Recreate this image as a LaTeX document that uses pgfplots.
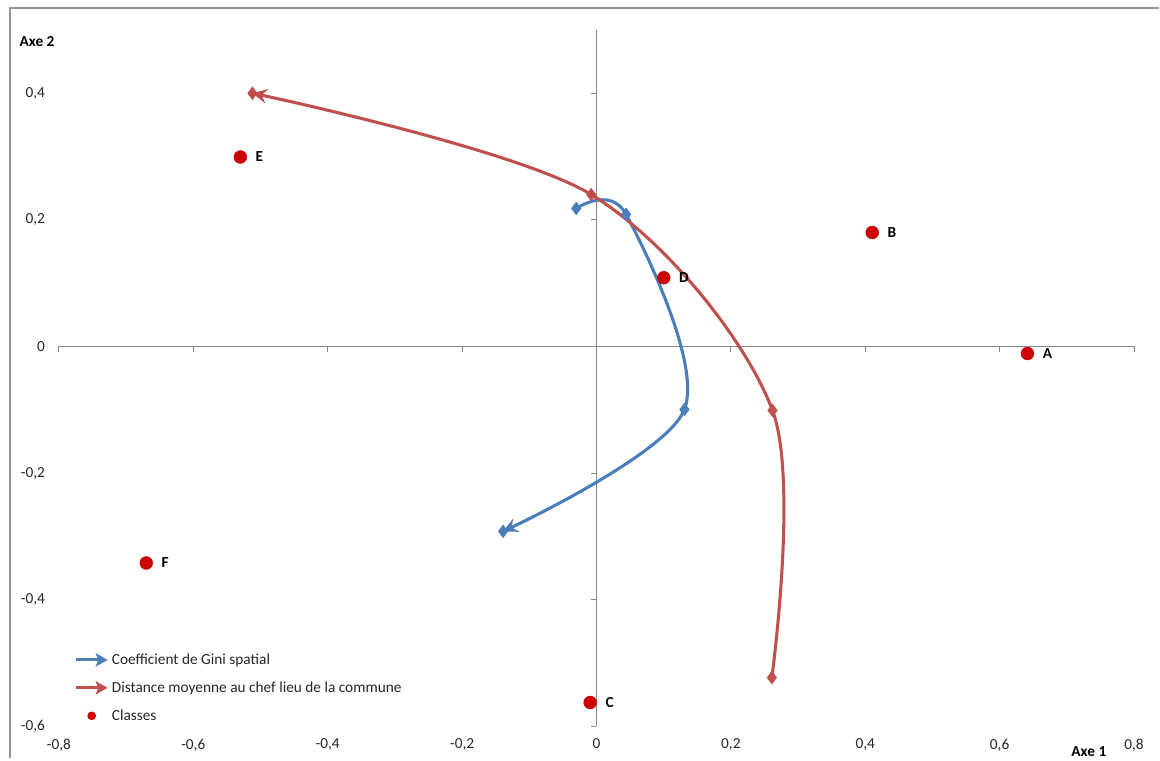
\documentclass[border=0pt]{standalone}
\usepackage{fontspec}
\setmainfont{Carlito}
\usepackage{pgfplots}
\pgfplotsset{compat=1.18}
\usetikzlibrary{arrows.meta}
\definecolor{gini}{RGB}{74,126,187}
\definecolor{dist}{RGB}{192,80,77}
\definecolor{classred}{RGB}{204,0,0}
\definecolor{axgray}{RGB}{134,134,134}
\definecolor{framegray}{RGB}{150,150,150}
\newcommand{\chartfont}{\fontsize{11.5pt}{13.8pt}\selectfont}

\pgfplotsset{
  common/.style={scale only axis, width=807pt, height=522.75pt,
    xmin=-0.8, xmax=0.8, ymin=-0.6, ymax=0.5,
    xtick={-0.8,-0.6,-0.4,-0.2,0,0.2,0.4,0.6,0.8},
    ytick={-0.6,-0.4,-0.2,0,0.2,0.4}},
}

\pgfplotstableread{
x y label
0.6414 -0.0111 A
0.4104 0.1800 B
-0.0094 -0.5624 C
0.1001 0.1086 D
-0.5300 0.2993 E
-0.6700 -0.3420 F
}\classes

\begin{document}
\begin{tikzpicture}[font=\chartfont]
% axis lines crossing at the origin
\begin{axis}[common, axis lines=middle,
  axis line style={axgray, line width=0.75pt, -},
  xticklabels={}, yticklabels={},
  tick style={axgray, line width=0.75pt},
  major tick length=4pt, tick align=outside, clip=false]
  \addplot[draw=none] coordinates {(0,0)};
  \draw[framegray, line width=1.5pt] (axis cs:-0.8729,-0.6505) -- (axis cs:-0.8729,0.5347) -- (axis cs:0.8372,0.5347);
  \path (axis cs:-0.8877,-0.6505) rectangle (axis cs:0.8372,0.5473);
\end{axis}
% data and tick labels
\begin{axis}[common, axis line style={draw=none}, major tick length=0pt,
  /pgf/number format/.cd, use comma, fixed, precision=1, assume math mode=true,
  /pgfplots/.cd,
  tick label style={font=\chartfont, text=black!85},
  yticklabel style={xshift=-7pt},
  xticklabel style={yshift=-6pt},
  clip=false,
  legend style={at={(axis description cs:0.0102,0.1125)}, anchor=north west,
    draw=none, fill=none, row sep=7.5pt, font=\chartfont, text=black!85},
  legend cell align=left]
  \addplot[gini, line width=2.3pt, smooth, tension=0.52, mark=diamond*, mark size=3.2pt,
    mark options={solid}, -{Stealth[length=11pt,width=11pt,inset=4pt]},
    legend image code/.code={\draw[gini, line width=2.3pt, -{Stealth[length=9pt,width=10pt,inset=2pt]}] (0pt,0pt) -- (24pt,0pt);}]
  coordinates {(-0.0302,0.218) (0.0441,0.2087) (0.1309,-0.0996) (-0.139,-0.292)};
  \addlegendentry{Coefficient de Gini spatial}
  \addplot[dist, line width=2.3pt, smooth, tension=0.52, mark=diamond*, mark size=3.2pt,
    mark options={solid}, -{Stealth[length=11pt,width=11pt,inset=4pt]},
    legend image code/.code={\draw[dist, line width=2.3pt, -{Stealth[length=9pt,width=10pt,inset=2pt]}] (0pt,0pt) -- (24pt,0pt);}]
  coordinates {(0.261,-0.523) (0.262,-0.101) (-0.0079,0.240) (-0.512,0.400)};
  \addlegendentry{Distance moyenne au chef lieu de la commune}
  \addplot[only marks, mark=*, mark size=4.8pt, classred,
    nodes near coords, point meta=explicit symbolic,
    every node near coord/.append style={anchor=west, xshift=8pt, yshift=0pt, text=black, font=\chartfont\bfseries},
    legend image code/.code={\fill[classred] (12pt,0pt) circle (3pt);}]
  table[x=x, y=y, meta=label] {\classes};
  \addlegendentry{Classes}
  \node[font=\chartfont\bfseries, anchor=center] at (axis description cs:0.958,-0.036) {Axe 1};
  \node[font=\chartfont\bfseries, anchor=center] at (axis description cs:-0.0204,0.983) {Axe 2};
\end{axis}
\end{tikzpicture}
\end{document}
